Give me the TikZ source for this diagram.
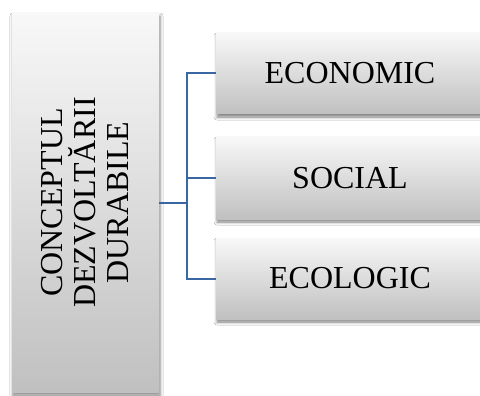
\documentclass[tikz,border=0pt]{standalone}
\usepackage{fontspec}
\setmainfont{Liberation Serif}
\usetikzlibrary{shadows.blur}
\definecolor{boxtop}{HTML}{F8F8F8}
\definecolor{boxbot}{HTML}{C0C0C0}
\definecolor{linkblue}{HTML}{3A66A2}
\tikzset{
  panel/.style={draw=none, top color=boxtop, bottom color=boxbot,
    blur shadow={shadow xshift=1pt, shadow yshift=-3pt,
      shadow blur radius=3pt, shadow opacity=50},
    font=\fontsize{32}{33}\selectfont, align=center, inner sep=0pt},
  link/.style={draw=linkblue, line width=2pt}
}
\begin{document}
\begin{tikzpicture}[x=1pt, y=-1pt]
  \clip (0,0) rectangle (480,396);
  \fill[white] (0,0) rectangle (480,396);
  % main concept, text set vertically
  \node[panel, minimum width=147pt, minimum height=379pt] (L) at (85.5,202.5) {};
  \node[rotate=90, font=\fontsize{32}{33}\selectfont, align=center] (Lt) at (L.center)
    {CONCEPTUL\\DEZVOLTĂRII\\DURABILE};
  % the three pillars
  \node[panel, minimum width=268pt, minimum height=81pt] (E) at (350,73.5) {ECONOMIC};
  \node[panel, minimum width=268pt, minimum height=82pt] (S) at (350,178) {SOCIAL};
  \node[panel, minimum width=268pt, minimum height=81pt] (C) at (350,278.5) {ECOLOGIC};
  % bracket connector
  \coordinate (j) at (187,202.5);
  \draw[link] (L.east) -- (j);
  \draw[link] (E.west) -| (j);
  \draw[link] (S.west) -| (j);
  \draw[link] (C.west) -| (j);
\end{tikzpicture}
\end{document}
